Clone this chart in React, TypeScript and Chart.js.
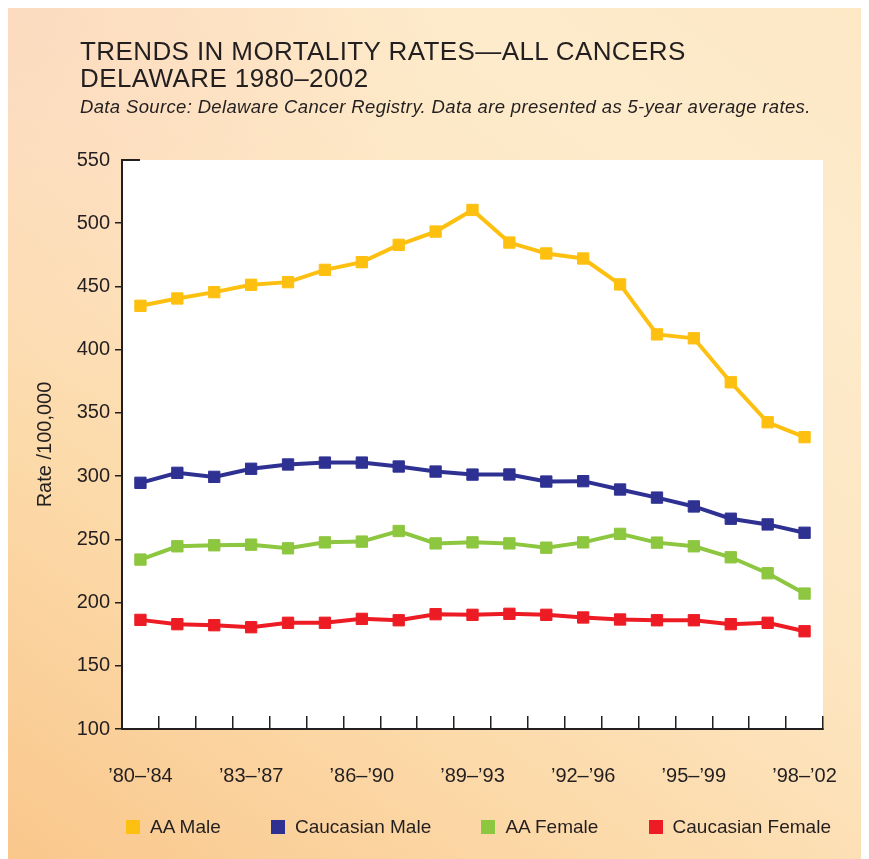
import React, { useEffect, useRef } from "react";
import { Chart, registerables } from "chart.js";
Chart.register(...registerables);

const periods = [
  "’80–’84", "’81–’85", "’82–’86", "’83–’87", "’84–’88", "’85–’89", "’86–’90",
  "’87–’91", "’88–’92", "’89–’93", "’90–’94", "’91–’95", "’92–’96", "’93–’97",
  "’94–’98", "’95–’99", "’96–’00", "’97–’01", "’98–’02",
];
const labeledPeriods = ["’80–’84", "’83–’87", "’86–’90", "’89–’93", "’92–’96", "’95–’99", "’98–’02"];

const aaMale = [434.7, 440.5, 445.5, 451.3, 453.4, 463.1, 469.2, 482.9, 493.4, 510.5, 484.7, 476.1, 472.1, 451.6, 412.1, 409.0, 374.2, 342.6, 330.8];
const caucasianMale = [294.7, 302.6, 299.4, 305.8, 309.2, 310.7, 310.7, 307.6, 303.6, 301.2, 301.3, 295.7, 296.0, 289.4, 283.0, 276.0, 266.3, 261.8, 255.2];
const aaFemale = [234.0, 244.5, 245.3, 245.8, 242.9, 247.6, 248.2, 256.6, 246.8, 247.6, 246.8, 243.4, 247.6, 254.3, 247.4, 244.5, 235.8, 223.2, 207.1];
const caucasianFemale = [186.3, 182.9, 182.1, 180.5, 184.0, 184.0, 187.1, 186.0, 190.8, 190.3, 191.1, 190.3, 188.2, 186.6, 186.0, 186.0, 182.9, 184.0, 177.3];

const seriesNames = ["AA Male", "Caucasian Male", "AA Female", "Caucasian Female"];
const seriesColors = ["#FDC010", "#2E3192", "#8DC63F", "#ED1C24"];
const seriesValues = [aaMale, caucasianMale, aaFemale, caucasianFemale];

const yMin = 100;
const yMax = 550;
const yStep = 50;

const TEXT = "#231F20";
const FONT = "'Liberation Sans', Arial, Helvetica, sans-serif";

const plotBg = {
  id: "plotBg",
  beforeDraw(chart: any) {
    const { ctx, chartArea } = chart;
    ctx.save();
    ctx.fillStyle = "#FFFFFF";
    ctx.fillRect(chartArea.left, chartArea.top, chartArea.right - chartArea.left, chartArea.bottom - chartArea.top);
    ctx.restore();
  },
};

const yCap = {
  id: "yCap",
  afterDraw(chart: any) {
    const { ctx, chartArea } = chart;
    const y = chart.scales.y.getPixelForValue(yMax);
    ctx.save();
    ctx.strokeStyle = TEXT;
    ctx.lineWidth = 2;
    ctx.beginPath();
    ctx.moveTo(chartArea.left - 1, y);
    ctx.lineTo(chartArea.left + 18, y);
    ctx.stroke();
    ctx.restore();
  },
};

function ChartCanvas() {
  const ref = useRef<HTMLCanvasElement | null>(null);
  useEffect(() => {
    if (!ref.current) return;
    Chart.defaults.font.family = FONT;
    const chart = new Chart(ref.current, {
      type: "line",
      data: {
        labels: periods,
        datasets: seriesValues.map((vals, i) => ({
          label: seriesNames[i],
          data: vals,
          borderColor: seriesColors[i],
          backgroundColor: seriesColors[i],
          pointBackgroundColor: seriesColors[i],
          pointBorderColor: seriesColors[i],
          borderWidth: 4,
          pointStyle: "rect",
          pointRadius: 8,
          pointBorderWidth: 1,
          tension: 0,
        })),
      },
      options: {
        responsive: false,
        animation: false,
        layout: { padding: { left: 25, right: 46, top: 152, bottom: 71 } },
        plugins: {
          legend: { display: false },
          title: { display: false },
          tooltip: { enabled: false },
        },
        scales: {
          x: {
            offset: true,
            afterFit: (scale: any) => {
              scale.height = 59;
              scale.paddingLeft = 0;
              scale.paddingRight = 0;
            },
            grid: {
              offset: true,
              drawOnChartArea: false,
              drawTicks: true,
              tickLength: -13,
              color: TEXT,
              lineWidth: 1.5,
            },
            border: { display: true, color: TEXT, width: 2 },
            ticks: {
              autoSkip: false,
              maxRotation: 0,
              padding: 48,
              color: TEXT,
              font: { size: 20, family: FONT },
              callback: function (this: any, value: any) {
                const lab = this.getLabelForValue(value);
                return labeledPeriods.includes(lab) ? lab : "";
              },
            },
          },
          y: {
            min: yMin,
            max: yMax,
            afterFit: (scale: any) => {
              scale.width = 89;
            },
            title: {
              display: true,
              text: "Rate /100,000",
              color: TEXT,
              font: { size: 20, family: FONT },
              padding: { top: 0, bottom: 0 },
            },
            grid: {
              drawOnChartArea: false,
              drawTicks: true,
              tickLength: 7,
              color: (ctx: any) => (ctx.tick && ctx.tick.value === yMax ? "rgba(0,0,0,0)" : TEXT),
              lineWidth: 1.5,
            },
            border: { display: true, color: TEXT, width: 2 },
            ticks: {
              stepSize: yStep,
              padding: 5,
              color: TEXT,
              font: { size: 20, family: FONT },
            },
          },
        },
      },
      plugins: [plotBg, yCap],
    });
    return () => chart.destroy();
  }, []);
  return (
    <canvas
      ref={ref}
      width={861}
      height={851}
      style={{ position: "absolute", left: 0, top: 0, width: 861, height: 851 }}
    />
  );
}

export default function App() {
  return (
    <div
      style={{
        position: "relative",
        width: 861,
        height: 851,
        overflow: "hidden",
        background:
          "linear-gradient(35deg, #F9C78C 0%, #FCD9A8 28%, #FDE6C2 55%, #FDEBCB 80%, #FDE8C6 100%)",
        fontFamily: FONT,
        color: TEXT,
      }}
    >
      <div
        style={{
          position: "absolute",
          left: 0,
          top: 0,
          width: 861,
          height: 851,
          background: "radial-gradient(ellipse at 0% 0%, rgba(252,214,190,0.7) 0%, rgba(252,214,190,0) 35%)",
        }}
      />
      <ChartCanvas />
      <div
        style={{
          position: "absolute",
          left: 72,
          top: 30,
          fontSize: 26,
          lineHeight: "26.5px",
          letterSpacing: "0.4px",
          whiteSpace: "nowrap",
        }}
      >
        <div>TRENDS IN MORTALITY RATES—ALL CANCERS</div>
        <div>DELAWARE 1980–2002</div>
      </div>
      <div
        style={{
          position: "absolute",
          left: 72,
          top: 89,
          fontSize: 18.5,
          lineHeight: "20px",
          letterSpacing: "0.35px",
          fontStyle: "italic",
          whiteSpace: "nowrap",
        }}
      >
        Data Source: Delaware Cancer Registry. Data are presented as 5-year average rates.
      </div>
      <div
        style={{
          position: "absolute",
          left: 118,
          top: 807,
          width: 705,
          height: 24,
          display: "flex",
          justifyContent: "space-between",
          alignItems: "center",
        }}
      >
        {seriesNames.map((name, i) => (
          <div key={name} style={{ display: "flex", alignItems: "center", fontSize: 19, lineHeight: "24px" }}>
            <span style={{ display: "inline-block", width: 14, height: 14, background: seriesColors[i], marginRight: 10 }} />
            <span>{name}</span>
          </div>
        ))}
      </div>
    </div>
  );
}
